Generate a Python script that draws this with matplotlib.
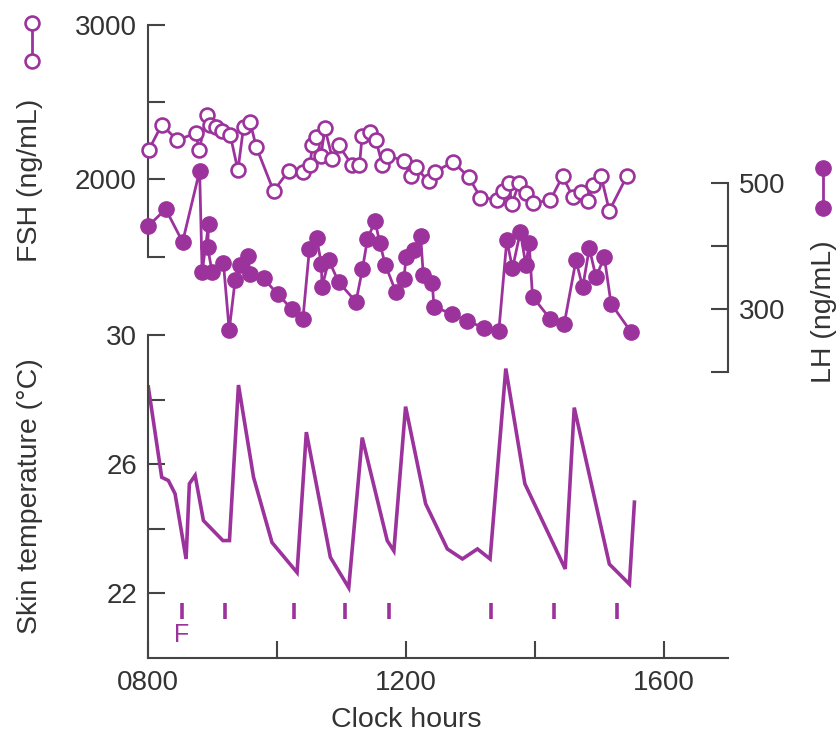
import matplotlib
matplotlib.use("Agg")
import matplotlib.pyplot as plt
from matplotlib.lines import Line2D

# ---------------- data ----------------
fsh_hours = [8.016, 8.213, 8.456, 8.742, 8.793, 8.913, 8.964, 9.053, 9.146, 9.275,
             9.395, 9.482, 9.586, 9.680, 9.949, 10.182, 10.403, 10.512, 10.551, 10.613,
             10.683, 10.745, 10.862, 10.960, 11.168, 11.281, 11.323, 11.445, 11.538, 11.635,
             11.712, 11.970, 12.075, 12.152, 12.355, 12.448, 12.733, 12.977, 13.159, 13.417,
             13.505, 13.599, 13.645, 13.759, 13.863, 13.967, 14.240, 14.434, 14.594, 14.714,
             14.823, 14.908, 15.030, 15.159, 15.434]
fsh_values = [2194, 2354, 2254, 2301, 2188, 2419, 2354, 2338, 2316, 2290,
              2060, 2338, 2370, 2210, 1925, 2056, 2049, 2092, 2220, 2276,
              2154, 2330, 2135, 2221, 2092, 2092, 2284, 2306, 2253, 2096,
              2154, 2122, 2022, 2080, 1987, 2049, 2113, 2016, 1883, 1870,
              1923, 1974, 1840, 1978, 1913, 1849, 1864, 2021, 1885, 1917,
              1859, 1965, 2021, 1798, 2024]

lh_hours = [8.000, 8.275, 8.537, 8.801, 8.840, 8.941, 8.925, 8.995, 9.171, 9.260,
            9.353, 9.431, 9.547, 9.586, 9.793, 10.014, 10.235, 10.403, 10.504, 10.617,
            10.690, 10.701, 10.804, 10.960, 11.227, 11.328, 11.406, 11.523, 11.596, 11.681,
            11.849, 11.970, 12.005, 12.126, 12.230, 12.272, 12.412, 12.437, 12.712, 12.956,
            13.215, 13.443, 13.568, 13.656, 13.778, 13.863, 13.914, 13.967, 14.241, 14.459,
            14.641, 14.745, 14.848, 14.952, 15.081, 15.185, 15.496]
lh_values = [431, 458, 406, 519, 358, 435, 398, 358, 372, 266,
             346, 369, 384, 355, 348, 323, 299, 283, 394, 412,
             371, 334, 377, 342, 311, 363, 411, 439, 405, 370,
             326, 347, 382, 393, 416, 353, 340, 303, 292, 280,
             270, 264, 409, 364, 422, 369, 404, 319, 284, 276,
             377, 334, 396, 350, 382, 308, 263]

temp_hours = [8.005, 8.213, 8.316, 8.420, 8.591, 8.642, 8.731, 8.860, 9.162, 9.264,
              9.404, 9.638, 9.924, 10.313, 10.457, 10.830, 11.115, 11.324, 11.712, 11.815,
              11.997, 12.308, 12.645, 12.879, 13.112, 13.308, 13.552, 13.848, 14.474, 14.614,
              15.159, 15.470, 15.548]
temp_values = [28.39, 25.59, 25.49, 25.08, 23.06, 25.39, 25.65, 24.25, 23.63, 23.63,
               28.45, 25.59, 23.57, 22.64, 26.99, 23.11, 22.17, 26.82, 23.63, 23.31,
               27.78, 24.77, 23.37, 23.06, 23.37, 23.06, 28.96, 25.39, 22.75, 27.75,
               22.90, 22.28, 24.82]

event_hours = [8.524, 9.198, 10.260, 11.064, 11.737, 13.330, 14.303, 15.278]

x_ticks = [8, 10, 12, 14, 16]
x_ticklabels = ["0800", "", "1200", "", "1600"]
fsh_ticks = [1500, 2000, 2500, 3000]
fsh_ticklabels = ["", "2000", "", "3000"]
lh_ticks = [200, 300, 400, 500]
lh_ticklabels = ["", "300", "", "500"]
temp_ticks = [22, 24, 26, 28, 30]
temp_ticklabels = ["22", "", "26", "", "30"]

# ---------------- style ----------------
W, H = 839, 744
PURPLE = "#9c339c"
TXT = "#333333"
SPINE = "#444444"
plt.rcParams["font.family"] = ["Liberation Sans", "DejaVu Sans"]
FS_TICK = 20
FS_LAB = 20.5

fig = plt.figure(figsize=(W / 100, H / 100), dpi=100)


def rect(l, t, r, b):
    return [l / W, 1 - b / H, (r - l) / W, (b - t) / H]


def style(ax):
    ax.set_facecolor("none")
    for s in ax.spines.values():
        s.set_visible(False)
        s.set_color(SPINE)
        s.set_linewidth(1.5)
    ax.tick_params(direction="in", length=12, width=1.5, color=SPINE,
                   labelsize=FS_TICK, labelcolor=TXT, pad=8)


# temperature axes
axT = fig.add_axes(rect(148, 335, 728, 657.7))
style(axT)
axT.spines["left"].set_visible(True)
axT.spines["bottom"].set_visible(True)
axT.set_xlim(8, 17)
axT.set_ylim(20, 30)
axT.set_xticks(x_ticks)
axT.set_xticklabels(x_ticklabels)
axT.set_yticks(temp_ticks)
axT.set_yticklabels(temp_ticklabels)
axT.plot(temp_hours, temp_values, color=PURPLE, lw=2.6, solid_joinstyle="miter")
axT.vlines(event_hours, 21.2, 21.7, color=PURPLE, lw=2.6)
axT.text(event_hours[0], 20.7, "F", color=PURPLE, fontsize=18,
         ha="center", va="center")
axT.tick_params(axis="x", pad=9)

# FSH axes
axF = fig.add_axes(rect(148, 25, 728, 256.7))
style(axF)
axF.spines["left"].set_visible(True)
axF.set_xlim(8, 17)
axF.set_ylim(1500, 3000)
axF.set_xticks([])
axF.set_yticks(fsh_ticks)
axF.set_yticklabels(fsh_ticklabels)
axF.plot(fsh_hours, fsh_values, color=PURPLE, lw=2.0, marker="o", ms=10,
         mfc="white", mec=PURPLE, mew=1.9, clip_on=False, zorder=3)

# LH axes
axL = fig.add_axes(rect(148, 182.7, 728, 371.7))
style(axL)
axL.spines["right"].set_visible(True)
axL.set_xlim(8, 17)
axL.set_ylim(200, 500)
axL.set_xticks([])
axL.yaxis.tick_right()
axL.set_yticks(lh_ticks)
axL.set_yticklabels(lh_ticklabels)
axL.plot(lh_hours, lh_values, color=PURPLE, lw=2.0, marker="o", ms=11,
         mfc=PURPLE, mec=PURPLE, clip_on=False, zorder=3)

# axis labels
fig.text(30 / W, 1 - 180 / H, "FSH (ng/mL)", rotation=90, ha="center",
         va="center", fontsize=FS_LAB, color=TXT)
fig.text(30 / W, 1 - 496 / H, "Skin temperature (\u00b0C)", rotation=90,
         ha="center", va="center", fontsize=FS_LAB, color=TXT)
fig.text(824 / W, 1 - 312 / H, "LH (ng/mL)", rotation=90, ha="center",
         va="center", fontsize=FS_LAB, color=TXT)
fig.text(406 / W, 1 - 720 / H, "Clock hours", ha="center", va="center",
         fontsize=FS_LAB, color=TXT)

# legend keys
fig.add_artist(Line2D([32 / W, 32 / W], [1 - 23 / H, 1 - 61 / H],
                      transform=fig.transFigure, color=PURPLE, lw=2.0,
                      marker="o", ms=10, mfc="white", mec=PURPLE, mew=1.9))
fig.add_artist(Line2D([823 / W, 823 / W], [1 - 168 / H, 1 - 208 / H],
                      transform=fig.transFigure, color=PURPLE, lw=2.0,
                      marker="o", ms=11, mfc=PURPLE, mec=PURPLE))

fig.savefig("out.png", dpi=100, facecolor="white")
